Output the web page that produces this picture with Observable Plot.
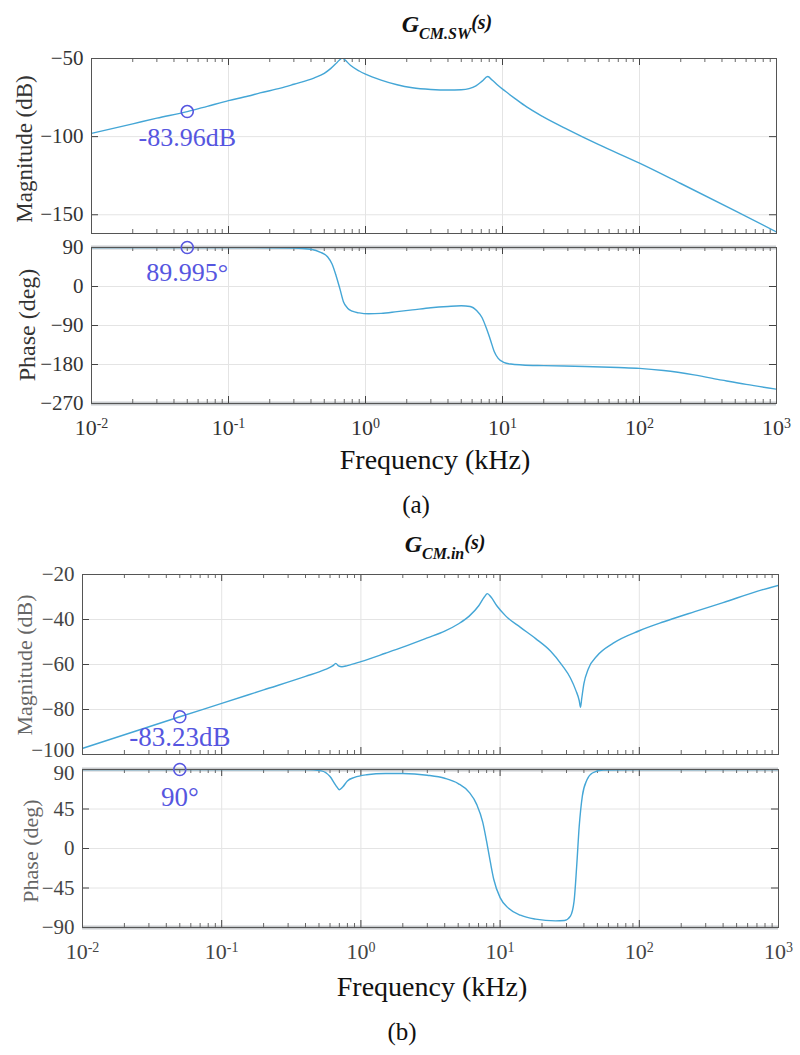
<!DOCTYPE html>
<html><head><meta charset="utf-8">
<script src="https://cdn.jsdelivr.net/npm/d3@7"></script>
<script src="https://cdn.jsdelivr.net/npm/@observablehq/plot@0.6"></script>
<style>
body{margin:0;background:#fff;}
#root{position:relative;width:800px;height:1055px;overflow:hidden;font-family:'Liberation Serif','Times New Roman','DejaVu Serif',serif;background:#fff;}
.lbl{position:absolute;white-space:nowrap;line-height:1;}
</style></head><body><div id="root"></div>
<script>
// ---------- tick values / labels ----------
const xTicks = [0.01, 0.1, 1, 10, 100, 1000];
const minorMult = [2, 3, 4, 5, 6, 7, 8, 9];
const magATicks = [-150, -100, -50];
const phATicks = [-270, -180, -90, 0, 90];
const magBTicks = [-100, -80, -60, -40, -20];
const phBTicks = [-90, -45, 0, 45, 90];

// ---------- (a) G_CM.SW magnitude ----------
const magA_f  = [0.01, 0.02, 0.03, 0.05, 0.07, 0.1, 0.14, 0.17, 0.24, 0.3, 0.42, 0.5, 0.556, 0.62, 0.66, 0.68, 0.71, 0.78, 0.9, 1.0, 1.3, 1.7, 2.2, 3, 4, 5, 5.7, 6.4, 7.1, 7.8, 8.4, 9.2, 10.5, 12.5, 15, 20, 30, 50, 100, 200, 500, 1000];
const magA_db = [-97.9, -91.8, -88.2, -83.96, -80.6, -77, -74, -72, -69, -66.5, -62.5, -59.5, -56.5, -52.5, -50.2, -49.6, -51, -54.5, -58, -60, -63.8, -66.8, -68.7, -69.8, -70.2, -70, -69.3, -67.5, -64.5, -61.5, -63.8, -67, -71, -76, -81, -87.5, -95.5, -105, -117, -130, -147.5, -161];

// ---------- (a) G_CM.SW phase ----------
const phA_f   = [0.01, 0.1, 0.3, 0.4, 0.47, 0.53, 0.57, 0.61, 0.65, 0.69, 0.74, 0.8, 0.9, 1.05, 1.3, 1.7, 2.2, 3, 4, 5, 5.8, 6.5, 7.1, 7.7, 8.2, 8.7, 9.3, 10.2, 11.5, 14, 20, 40, 70, 100, 150, 250, 400, 600, 1000];
const phA_deg = [90, 90, 89, 86, 79, 68, 52, 25, -5, -35, -50, -57, -61, -63, -62, -58, -54, -49, -46, -44.5, -46, -56, -72, -100, -125, -150, -166, -175, -179, -181, -182.5, -184.5, -187, -189, -194, -204, -216, -226, -237];

// ---------- (b) G_CM.in magnitude ----------
const magB_f  = [0.01, 0.05, 0.1, 0.2, 0.4, 0.55, 0.63, 0.66, 0.69, 0.73, 0.8, 1, 1.5, 2, 3, 4, 5, 6, 7, 7.7, 8.1, 8.6, 9.5, 11, 14, 18, 23, 28, 32, 35, 37, 37.8, 38.6, 40, 43, 50, 65, 100, 150, 250, 400, 700, 1000];
const magB_db = [-97.3, -83.23, -77.3, -71.3, -65.3, -62.3, -60.5, -59.5, -60.6, -61, -60.5, -58.7, -55, -52.3, -48.2, -45.2, -42, -38.5, -34, -30, -28.5, -30, -34, -38.5, -43.5, -48.5, -54, -60.5, -66, -71.5, -76, -79, -75, -68.5, -62, -56, -50.5, -45, -41, -36.5, -32.5, -27.5, -24.8];

// ---------- (b) G_CM.in phase ----------
const phB_f   = [0.01, 0.4, 0.52, 0.6, 0.66, 0.7, 0.74, 0.8, 0.9, 1.1, 1.5, 2, 3, 4, 5, 6, 6.8, 7.5, 8, 8.5, 9, 10, 11.5, 14, 18, 25, 29, 32, 34, 35.5, 37, 39, 42, 46, 55, 100, 1000];
const phB_deg = [90, 90, 88.5, 82, 72, 67, 70, 77, 81, 84, 85.5, 85.5, 83.5, 80, 74, 64, 50, 30, 8, -15, -35, -56, -68, -76, -80.5, -82.5, -82, -77, -60, -20, 25, 60, 78, 86, 89.5, 90, 90];

// ---------- data-cursor annotations ----------
const annF = [0.05, 0.05, 0.05, 0.05];
const annV = [-83.96, 89.995, -83.23, 90];
const annText = ["-83.96dB", "89.995\u00b0", "-83.23dB", "90\u00b0"];

const lineColor = "#44a6d6";
const annColor = "#5656e0";
const serif = "'Liberation Serif', 'Times New Roman', 'DejaVu Serif', serif";
const root = document.getElementById("root");

function series(fs, vs) { return fs.map((f, i) => ({f, v: vs[i]})); }
const minorTicks = xTicks.slice(0, -1).flatMap(t => minorMult.map(m => t * m));

function panel(o) {
  const fw = 800 - o.ml - o.mr, fh = o.h - o.mt - o.mb;
  const marks = [
    Plot.gridX(xTicks, {stroke: "#e4e4e4", strokeOpacity: 1}),
    Plot.gridY(o.yTicks, {stroke: "#e4e4e4", strokeOpacity: 1})
  ];
  if (o.bands) marks.push(Plot.ruleY(o.yDomain, {stroke: "#c9cccf", strokeWidth: 4}));
  marks.push(
    Plot.tickX(minorTicks, {x: d => d, insetBottom: fh - 4, stroke: "#666"}),
    Plot.tickX(minorTicks, {x: d => d, insetTop: fh - 4, stroke: "#666"}),
    Plot.tickX(xTicks, {x: d => d, insetBottom: fh - 7, stroke: "#444"}),
    Plot.tickX(xTicks, {x: d => d, insetTop: fh - 7, stroke: "#444"}),
    Plot.tickY(o.yTicks, {y: d => d, insetRight: fw - 7, stroke: "#444"}),
    Plot.tickY(o.yTicks, {y: d => d, insetLeft: fw - 7, stroke: "#444"}),
    Plot.line(o.data, {x: "f", y: "v", stroke: lineColor, strokeWidth: 1.4, curve: "monotone-x", clip: true}),
    Plot.frame({stroke: "#555", strokeWidth: 1}),
    Plot.axisY(o.yTicks.filter(t => t !== o.nudge?.tick), {tickSize: 0, tickPadding: 8, label: null, fontSize: 21}),
    Plot.dot([o.ann], {x: "f", y: "v", r: 6, stroke: annColor, strokeWidth: 1.6, fill: "none"}),
    Plot.text([o.ann], {x: "f", y: "v", text: "t", dy: o.annDy, fontSize: o.annSize, fill: annColor, lineAnchor: "middle"})
  );
  if (o.nudge) marks.push(Plot.axisY([o.nudge.tick], {tickSize: 0, tickPadding: 8, label: null, fontSize: 21, dy: o.nudge.dy}));
  if (o.xAxis) marks.push(Plot.axisX(xTicks, {tickSize: 0, tickPadding: 16, label: null, fontSize: 22,
      tickFormat: d => "10^" + Math.round(Math.log10(d))}));
  const svg = Plot.plot({
    width: 800, height: o.h,
    marginLeft: o.ml, marginRight: o.mr, marginTop: o.mt, marginBottom: o.mb,
    style: {fontFamily: serif, fontSize: "21px", color: o.color, background: "transparent", overflow: "visible"},
    x: {type: "log", domain: [0.01, 1000], axis: null},
    y: {domain: o.yDomain, axis: null},
    marks
  });
  svg.style.position = "absolute";
  svg.style.left = "0px";
  svg.style.top = o.top + "px";
  svg.style.fontFamily = serif;
  // superscript exponents on x tick labels
  svg.querySelectorAll("text").forEach(t => {
    const m = t.textContent.match(/^10\^(-?\d+)$/);
    if (m) {
      t.textContent = "";
      const ns = "http://www.w3.org/2000/svg";
      const a = document.createElementNS(ns, "tspan"); a.textContent = "10";
      const b = document.createElementNS(ns, "tspan"); b.textContent = m[1];
      b.setAttribute("dy", "-0.5em"); b.setAttribute("font-size", "14px");
      t.appendChild(a); t.appendChild(b);
    }
  });
  root.appendChild(svg);
}

panel({top: 40, h: 200, ml: 91, mr: 24, mt: 18, mb: 7, yDomain: [-162, -50], yTicks: magATicks,
  data: series(magA_f, magA_db), ann: {f: annF[0], v: annV[0], t: annText[0]}, annDy: 26, annSize: 26, color: "#333"});
panel({top: 240, h: 210, ml: 91, mr: 24, mt: 7, mb: 47, yDomain: [-270, 90], yTicks: phATicks, bands: true,
  data: series(phA_f, phA_deg), ann: {f: annF[1], v: annV[1], t: annText[1]}, annDy: 25, annSize: 26, color: "#333", xAxis: true});
panel({top: 555, h: 205, ml: 82, mr: 22, mt: 19, mb: 6, yDomain: [-100, -20], yTicks: magBTicks, nudge: {tick: -100, dy: -4},
  data: series(magB_f, magB_db), ann: {f: annF[2], v: annV[2], t: annText[2]}, annDy: 21, annSize: 27, color: "#444"});
panel({top: 760, h: 210, ml: 82, mr: 22, mt: 9, mb: 43, yDomain: [-90, 90], yTicks: phBTicks, bands: true, nudge: {tick: 90, dy: 4},
  data: series(phB_f, phB_deg), ann: {f: annF[3], v: annV[3], t: annText[3]}, annDy: 28, annSize: 27, color: "#444", xAxis: true});

function label(html, x, y, size, opts = {}) {
  const d = document.createElement("div");
  d.className = "lbl";
  d.innerHTML = html;
  d.style.left = x + "px"; d.style.top = y + "px";
  d.style.fontSize = size + "px";
  d.style.fontFamily = serif;
  d.style.color = opts.color || "#222";
  if (opts.weight) d.style.fontWeight = opts.weight;
  if (opts.italic) d.style.fontStyle = "italic";
  d.style.transform = "translate(-50%,-50%)" + (opts.rotate ? ` rotate(${opts.rotate}deg)` : "");
  root.appendChild(d);
}
const title = (sub) => `<span style="font-size:24px">G</span><span style="font-size:16px;position:relative;top:7px">${sub}</span><span style="font-size:20px;position:relative;top:-3px">(s)</span>`;
label(title("CM.SW"), 447, 24, 24, {weight: "bold", italic: true, color: "#111"});
label(title("CM.in"), 445, 544, 24, {weight: "bold", italic: true, color: "#111"});
label("Magnitude (dB)", 24, 149, 23, {rotate: -90, color: "#333"});
label("Phase (deg)", 27, 325, 24, {rotate: -90, color: "#333"});
label("Frequency (kHz)", 435, 460, 28, {color: "#111"});
label("(a)", 416, 504, 25, {color: "#111"});
label("Magnitude (dB)", 25, 665, 22, {rotate: -90, color: "#666"});
label("Phase (deg)", 31, 851, 22, {rotate: -90, color: "#666"});
label("Frequency (kHz)", 432, 987, 28, {color: "#111"});
label("(b)", 402, 1031, 25, {color: "#111"});
</script></body></html>
